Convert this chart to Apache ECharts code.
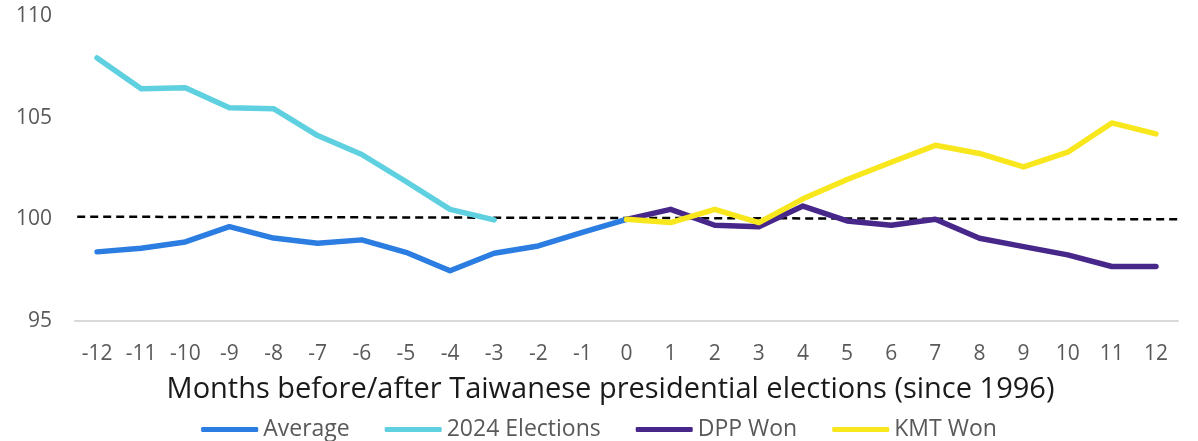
<!DOCTYPE html>
<html>
<head>
<meta charset="utf-8">
<script src="https://cdn.jsdelivr.net/npm/echarts@6/dist/echarts.min.js"></script>
<style>
html,body{margin:0;padding:0;background:#fff;}
#chart{width:1198px;height:441px;}
</style>
</head>
<body>
<div id="chart"></div>
<script>
const months = ['-12','-11','-10','-9','-8','-7','-6','-5','-4','-3','-2','-1','0','1','2','3','4','5','6','7','8','9','10','11','12'];
const average = [98.40,98.58,98.89,99.64,99.08,98.82,98.99,98.38,97.47,98.33,98.69,99.36,100.0,null,null,null,null,null,null,null,null,null,null,null,null];
const elections2024 = [107.94,106.42,106.47,105.49,105.44,104.12,103.19,101.86,100.49,99.97,null,null,null,null,null,null,null,null,null,null,null,null,null,null,null];
const dppWon = [null,null,null,null,null,null,null,null,null,null,null,null,100.0,100.49,99.71,99.64,100.65,99.92,99.71,100.0,99.07,98.66,98.25,97.68,97.68];
const kmtWon = [null,null,null,null,null,null,null,null,null,null,null,null,100.0,99.84,100.49,99.84,101.01,101.96,102.81,103.64,103.24,102.58,103.30,104.74,104.20];
const refLine = [[-12.45,100.13],[13.0,100.0]];
const yTicks = {min:95, max:110, interval:5};

const font = 'Open Sans';
const chart = echarts.init(document.getElementById('chart'));
const mkLine = (name, data, color) => ({
  name, type:'line', data, xAxisIndex:0, symbol:'none', smooth:false,
  lineStyle:{color, width:5.5, cap:'round', join:'round'}, itemStyle:{color},
  connectNulls:false, z:3
});
chart.setOption({
  animation:false,
  grid:{left:75, right:20, top:16, bottom:120, containLabel:false},
  legend:{
    top:413, left:'center', itemWidth:57, itemHeight:5, itemGap:35,
    icon:'roundRect',
    textStyle:{fontFamily:font, fontSize:23, color:'#595959'},
    data:['Average','2024 Elections','DPP Won','KMT Won']
  },
  xAxis:[{
    type:'category', data:months, boundaryGap:true,
    axisLine:{lineStyle:{color:'#d9d9d9', width:2}},
    axisTick:{show:false},
    axisLabel:{fontFamily:font, fontSize:21, color:'#595959', margin:23, interval:0},
    name:'Months before/after Taiwanese presidential elections (since 1996)',
    nameLocation:'middle', nameGap:54,
    nameTextStyle:{fontFamily:font, fontSize:29, color:'#1a1a1a', padding:[0,32,0,0]}
  },{
    type:'value', min:-12.5, max:12.5, show:false
  }],
  yAxis:{
    type:'value', min:yTicks.min, max:yTicks.max, interval:yTicks.interval,
    splitLine:{show:false}, axisLine:{show:false}, axisTick:{show:false},
    axisLabel:{fontFamily:font, fontSize:21, color:'#595959', margin:23}
  },
  series:[
    {name:'ref', type:'line', xAxisIndex:1, data:refLine, symbol:'none', clip:false,
     lineStyle:{color:'#000', width:2.5, type:[8,5]}, z:2, silent:true},
    mkLine('Average', average, '#2b7de1'),
    mkLine('2024 Elections', elections2024, '#5fd0df'),
    mkLine('DPP Won', dppWon, '#47288a'),
    mkLine('KMT Won', kmtWon, '#f7e71c')
  ]
});
</script>
</body>
</html>
